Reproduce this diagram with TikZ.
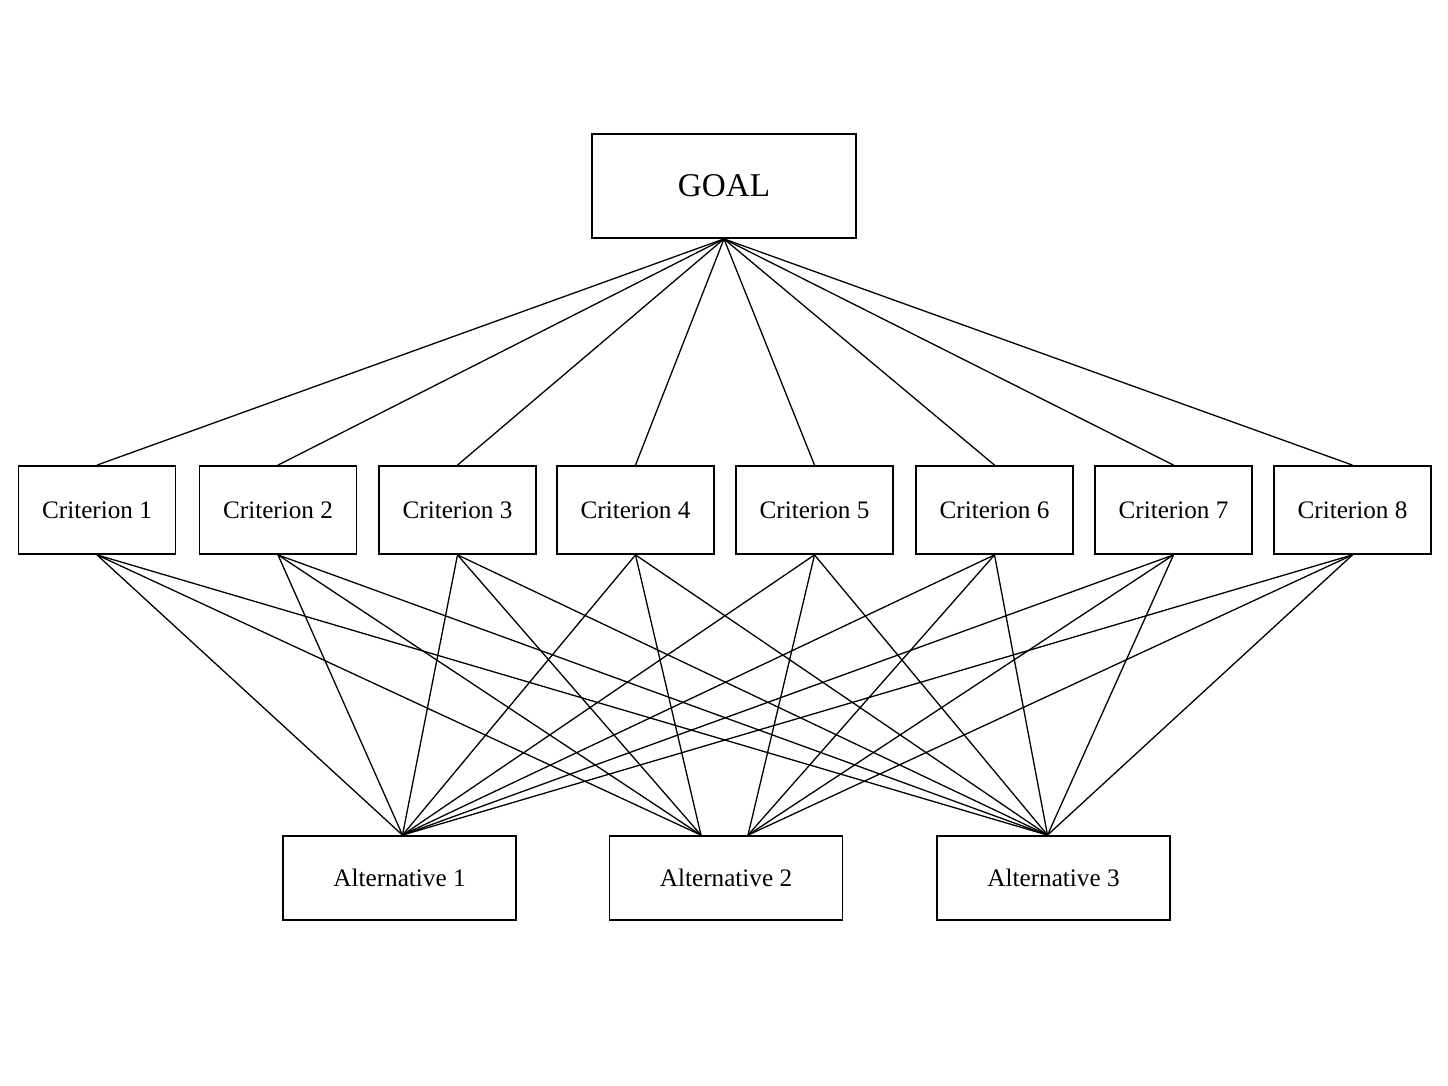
\documentclass[tikz,border=0pt]{standalone}
\usepackage{fontspec}
\setmainfont{Liberation Serif}

\begin{document}
\begin{tikzpicture}[x=0.5pt,y=-0.5pt,
    box/.style={draw,line width=0.9pt,inner sep=0pt,font=\fontsize{12.6}{15}\selectfont},
    crit/.style={box,minimum width=78.5pt,minimum height=44pt},
    alt/.style={box,minimum width=116.5pt,minimum height=42pt},
    link/.style={line width=0.65pt}]
      \useasboundingbox (0,0) rectangle (1448,1086) ;
      \node[box,minimum width=132pt,minimum height=52pt,%
      font=\fontsize{16.6}{20}\selectfont] (goal) at (724,186) {GOAL} ;
      \foreach \i/\x in {1/97,2/278,3/457.5,4/635.5,5/814.5,6/994.5,7/1173.5,8/1352.5}
        \node[crit] (c\i) at (\x,510) {Criterion \i} ;
      \foreach \j/\x in {1/399.5,2/726,3/1053.5}
        \node[alt] (a\j) at (\x,878) {Alternative \j} ;
      \coordinate (a2l) at ([xshift=-12.5pt]a2.north) ;
      \coordinate (a2r) at ([xshift=11pt]a2.north) ;
      \foreach \i in {1,...,8}
        \draw[link] (goal.south) -- (c\i.north) ;
      \foreach \i in {1,...,8} {
        \draw[link] (c\i.south) -- ([xshift=1.5pt]a1.north) ;
        \draw[link] (c\i.south) -- ([xshift=-3pt]a3.north) ;
      }
      \foreach \i in {1,...,4}
        \draw[link] (c\i.south) -- (a2l) ;
      \foreach \i in {5,...,8}
        \draw[link] (c\i.south) -- (a2r) ;
    \end{tikzpicture}
\end{document}
